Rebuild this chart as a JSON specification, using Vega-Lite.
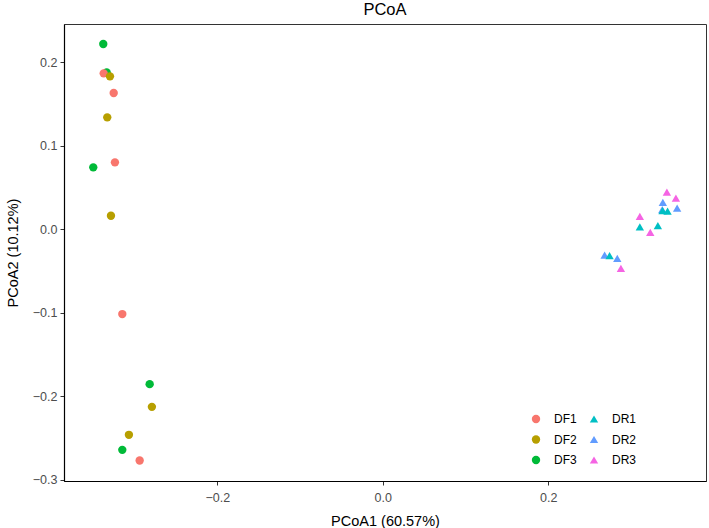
{
  "$schema": "https://vega.github.io/schema/vega-lite/v6.json",
  "width": 642,
  "height": 457,
  "autosize": {"type": "none"},
  "padding": {"left": 64, "top": 24, "right": 3, "bottom": 47},
  "background": "white",
  "title": {"text": "PCoA", "fontSize": 16.5, "font": "Liberation Sans", "fontWeight": "normal", "color": "black", "anchor": "middle", "baseline": "alphabetic", "offset": 0, "dy": 7},
  "data": {"values": [
    {"group": "DF3", "PCoA1": -0.3339, "PCoA2": 0.1880},
    {"group": "DF1", "PCoA1": -0.3375, "PCoA2": 0.1868},
    {"group": "DF1", "PCoA1": -0.3254, "PCoA2": 0.1633},
    {"group": "DF1", "PCoA1": -0.3239, "PCoA2": 0.0802},
    {"group": "DF1", "PCoA1": -0.3150, "PCoA2": -0.1015},
    {"group": "DF1", "PCoA1": -0.2940, "PCoA2": -0.2769},
    {"group": "DF2", "PCoA1": -0.3299, "PCoA2": 0.1832},
    {"group": "DF2", "PCoA1": -0.3332, "PCoA2": 0.1341},
    {"group": "DF2", "PCoA1": -0.3287, "PCoA2": 0.0163},
    {"group": "DF2", "PCoA1": -0.2792, "PCoA2": -0.2126},
    {"group": "DF2", "PCoA1": -0.3070, "PCoA2": -0.2461},
    {"group": "DF3", "PCoA1": -0.3380, "PCoA2": 0.2220},
    {"group": "DF3", "PCoA1": -0.3501, "PCoA2": 0.0742},
    {"group": "DF3", "PCoA1": -0.2819, "PCoA2": -0.1854},
    {"group": "DF3", "PCoA1": -0.3150, "PCoA2": -0.2641},
    {"group": "DR2", "PCoA1": 0.3387, "PCoA2": 0.0322},
    {"group": "DR2", "PCoA1": 0.3560, "PCoA2": 0.0255},
    {"group": "DR2", "PCoA1": 0.3380, "PCoA2": 0.0235},
    {"group": "DR2", "PCoA1": 0.2683, "PCoA2": -0.0308},
    {"group": "DR2", "PCoA1": 0.2836, "PCoA2": -0.0349},
    {"group": "DR1", "PCoA1": 0.3444, "PCoA2": 0.0217},
    {"group": "DR1", "PCoA1": 0.3384, "PCoA2": 0.0223},
    {"group": "DR1", "PCoA1": 0.3109, "PCoA2": 0.0028},
    {"group": "DR1", "PCoA1": 0.3327, "PCoA2": 0.0043},
    {"group": "DR1", "PCoA1": 0.2743, "PCoA2": -0.0316},
    {"group": "DR3", "PCoA1": 0.3436, "PCoA2": 0.0447},
    {"group": "DR3", "PCoA1": 0.3545, "PCoA2": 0.0375},
    {"group": "DR3", "PCoA1": 0.3109, "PCoA2": 0.0155},
    {"group": "DR3", "PCoA1": 0.3235, "PCoA2": -0.0037},
    {"group": "DR3", "PCoA1": 0.2880, "PCoA2": -0.0468}
  ]},
  "mark": {"type": "point", "filled": true, "opacity": 1},
  "encoding": {
    "x": {"field": "PCoA1", "type": "quantitative",
      "scale": {"domain": [-0.3855, 0.3909], "nice": false, "zero": false},
      "axis": {"values": [-0.2, 0, 0.2], "format": ".1f", "title": "PCoA1 (60.57%)", "grid": false, "titlePadding": 11, "labelPadding": 6}},
    "y": {"field": "PCoA2", "type": "quantitative",
      "scale": {"domain": [-0.3014, 0.2459], "nice": false, "zero": false},
      "axis": {"values": [-0.3, -0.2, -0.1, 0, 0.1, 0.2], "format": ".1f", "title": "PCoA2 (10.12%)", "grid": false, "titlePadding": 12, "labelPadding": 3}},
    "color": {"field": "group", "type": "nominal",
      "scale": {"domain": ["DF1", "DF2", "DF3", "DR1", "DR2", "DR3"], "range": ["#F8766D", "#B79F00", "#00BA38", "#00BFC4", "#619CFF", "#F564E3"]},
      "legend": {"title": null, "orient": "none", "legendX": 466, "legendY": 389, "columns": 2, "columnPadding": 11, "rowPadding": 8.5, "labelOffset": 12, "labelFontSize": 12, "labelFont": "Liberation Sans", "labelColor": "black", "symbolSize": 110, "padding": 0, "symbolStrokeWidth": 0}},
    "shape": {"field": "group", "type": "nominal",
      "scale": {"domain": ["DF1", "DF2", "DF3", "DR1", "DR2", "DR3"], "range": ["circle", "circle", "circle", "triangle-up", "triangle-up", "triangle-up"]}},
    "size": {"field": "group", "type": "nominal",
      "scale": {"domain": ["DF1", "DF2", "DF3", "DR1", "DR2", "DR3"], "range": [70, 70, 70, 150, 150, 150]}, "legend": null}
  },
  "config": {
    "view": {"stroke": "#333333", "strokeWidth": 1},
    "axis": {
      "labelFont": "Liberation Sans", "labelFontSize": 12.5, "labelColor": "#4D4D4D",
      "titleFont": "Liberation Sans", "titleFontSize": 14.5, "titleFontWeight": "normal", "titleColor": "black",
      "tickColor": "#333333", "tickSize": 4, "tickWidth": 1,
      "domainColor": "black", "domainWidth": 1.2
    }
  }
}
